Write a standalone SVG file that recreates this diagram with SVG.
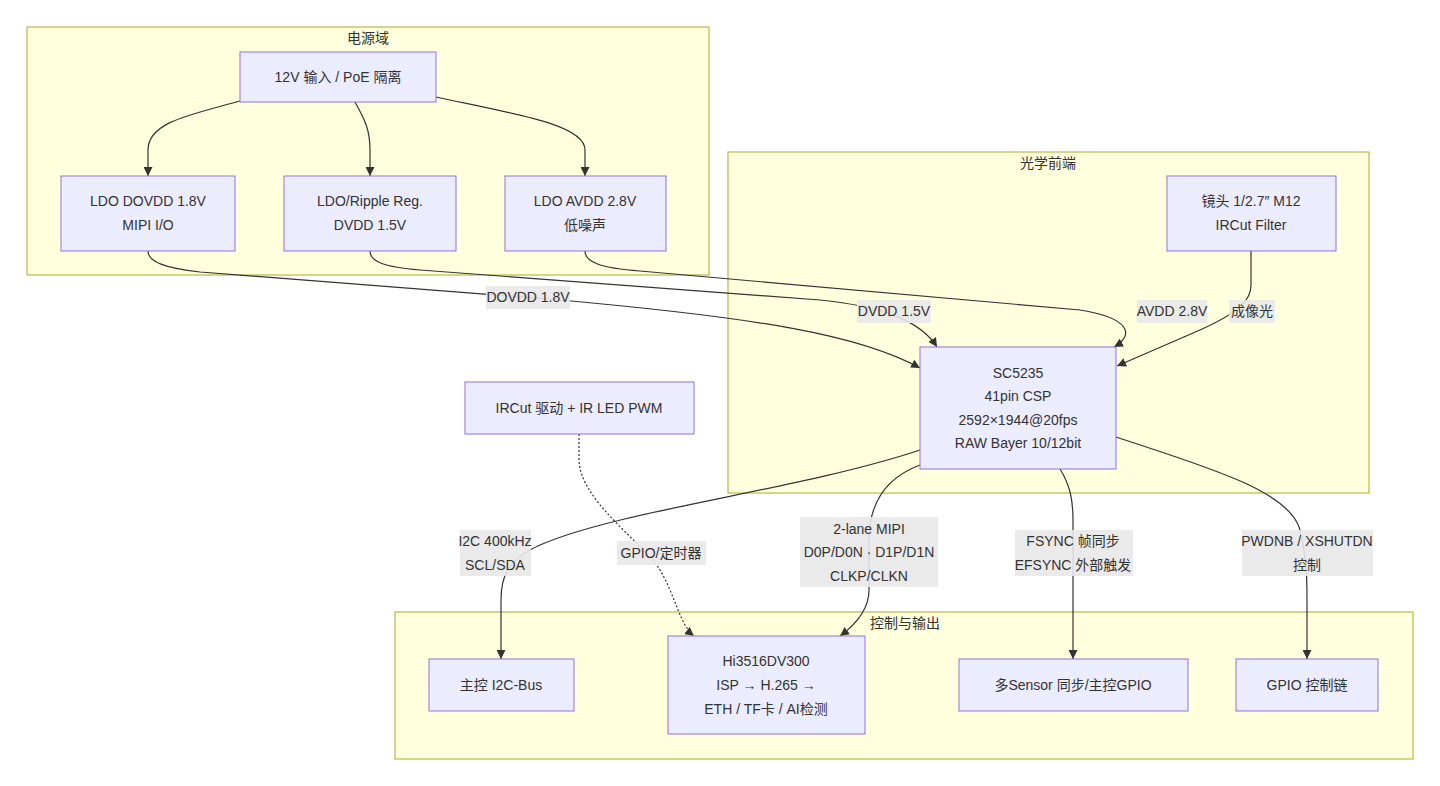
<svg xmlns="http://www.w3.org/2000/svg" width="1440" height="786" viewBox="0 0 1440 786">
<style>
text{font-family:"Liberation Sans","Noto Sans CJK SC",sans-serif;font-size:14px;fill:#333;text-anchor:middle;dominant-baseline:central}
.cl{fill:#ffffde;stroke:#aaaa33;stroke-width:1}
.nd{fill:#ececff;stroke:#9370db;stroke-width:1}
.e{fill:none;stroke:#333;stroke-width:1.2}
.d{stroke-dasharray:2 2}
.lb{fill:#e8e8e8;opacity:0.9}
</style>
<defs>
<marker id="ah" viewBox="0 0 10 10" refX="10" refY="5" markerWidth="9" markerHeight="9" markerUnits="userSpaceOnUse" orient="auto">
<path d="M0,0 L10,5 L0,10 z" fill="#333"/>
</marker>
</defs>
<rect width="1440" height="786" fill="#fff"/>
<g id="cluster-power"><rect class="cl" x="27" y="27" width="682" height="248"/><text x="368" y="38">电源域</text></g>
<g id="cluster-optics"><rect class="cl" x="728" y="152" width="641" height="341"/><text x="1048" y="163">光学前端</text></g>
<g id="cluster-ctrl"><rect class="cl" x="395" y="612" width="1018" height="147"/><text x="905" y="623">控制与输出</text></g>

<g id="connectors">
<path class="e" marker-end="url(#ah)" d="M240,101 C190,115 148,122 148,150 L148,176"/>
<path class="e" marker-end="url(#ah)" d="M355,102 C365,120 370,130 370,150 L370,176"/>
<path class="e" marker-end="url(#ah)" d="M436,97 C520,115 585,125 585,150 L585,176"/>
<path class="e" marker-end="url(#ah)" d="M148,251 C148,262 165,268 200,272 L560,300 C760,318 860,335 920,368"/>
<path class="e" marker-end="url(#ah)" d="M370,251 C370,262 385,267 420,270 L820,300 C880,306 920,320 937,347"/>
<path class="e" marker-end="url(#ah)" d="M585,251 C585,262 600,268 640,271 L1080,310 C1130,318 1135,335 1114,347"/>
<path class="e" marker-end="url(#ah)" d="M1251,251 L1251,285 C1251,300 1240,312 1200,330 L1117,366"/>
<path class="e" marker-end="url(#ah)" d="M920,450 C800,490 620,510 540,545 C505,560 501,580 501,600 L501,659"/>
<path class="e" marker-end="url(#ah)" d="M920,465 C880,480 869,510 869,540 L869,590 C869,610 855,625 840,636"/>
<path class="e d" marker-end="url(#ah)" d="M579,434 L579,460 C580,500 640,540 660,570 C675,595 680,625 694,636"/>
<path class="e" marker-end="url(#ah)" d="M1060,469 C1070,485 1073,500 1073,520 L1073,659"/>
<path class="e" marker-end="url(#ah)" d="M1116,437 C1200,465 1290,490 1300,530 C1307,560 1307,580 1307,600 L1307,659"/>
</g>

<g id="edge-labels">
<rect class="lb" x="486" y="286" width="84" height="23"/><text x="528" y="297">DOVDD 1.8V</text>
<rect class="lb" x="857" y="300" width="74" height="23"/><text x="894" y="311">DVDD 1.5V</text>
<rect class="lb" x="1137" y="300" width="70" height="23"/><text x="1172" y="311">AVDD 2.8V</text>
<rect class="lb" x="1229" y="300" width="46" height="23"/><text x="1252" y="311">成像光</text>
<rect class="lb" x="460" y="530" width="71" height="46"/><text x="495" y="541">I2C 400kHz</text><text x="495" y="565">SCL/SDA</text>
<rect class="lb" x="617" y="541" width="89" height="24"/><text x="661" y="553">GPIO/定时器</text>
<rect class="lb" x="800" y="517" width="138" height="70"/><text x="869" y="529">2-lane MIPI</text><text x="869" y="552">D0P/D0N · D1P/D1N</text><text x="869" y="576">CLKP/CLKN</text>
<rect class="lb" x="1015" y="530" width="118" height="46"/><text x="1073" y="541">FSYNC 帧同步</text><text x="1073" y="565">EFSYNC 外部触发</text>
<rect class="lb" x="1242" y="530" width="131" height="46"/><text x="1307" y="541">PWDNB / XSHUTDN</text><text x="1307" y="565">控制</text>
</g>

<g id="n-12v"><rect class="nd" x="240" y="52" width="196" height="50"/><text x="338" y="77">12V 输入 / PoE 隔离</text></g>
<g id="n-dovdd"><rect class="nd" x="61" y="176" width="174" height="75"/><text x="148" y="201">LDO DOVDD 1.8V</text><text x="148" y="225">MIPI I/O</text></g>
<g id="n-dvdd"><rect class="nd" x="284" y="176" width="172" height="75"/><text x="370" y="201">LDO/Ripple Reg.</text><text x="370" y="225">DVDD 1.5V</text></g>
<g id="n-avdd"><rect class="nd" x="505" y="176" width="161" height="75"/><text x="585" y="201">LDO AVDD 2.8V</text><text x="585" y="225">低噪声</text></g>
<g id="n-lens"><rect class="nd" x="1167" y="176" width="169" height="75"/><text x="1251" y="201">镜头 1/2.7″ M12</text><text x="1251" y="225">IRCut Filter</text></g>
<g id="n-sc5235"><rect class="nd" x="920" y="347" width="196" height="122"/><text x="1018" y="373">SC5235</text><text x="1018" y="396">41pin CSP</text><text x="1018" y="420">2592×1944@20fps</text><text x="1018" y="443">RAW Bayer 10/12bit</text></g>
<g id="n-ircut"><rect class="nd" x="465" y="382" width="229" height="52"/><text x="579" y="408">IRCut 驱动 + IR LED PWM</text></g>
<g id="n-i2c"><rect class="nd" x="429" y="659" width="145" height="52"/><text x="501" y="685">主控 I2C-Bus</text></g>
<g id="n-hi3516"><rect class="nd" x="668" y="636" width="197" height="98"/><text x="766" y="661">Hi3516DV300</text><text x="766" y="685">ISP → H.265 →</text><text x="766" y="709">ETH / TF卡 / AI检测</text></g>
<g id="n-sync"><rect class="nd" x="959" y="659" width="229" height="52"/><text x="1073" y="685">多Sensor 同步/主控GPIO</text></g>
<g id="n-gpio"><rect class="nd" x="1236" y="659" width="142" height="52"/><text x="1307" y="685">GPIO 控制链</text></g>
</svg>
